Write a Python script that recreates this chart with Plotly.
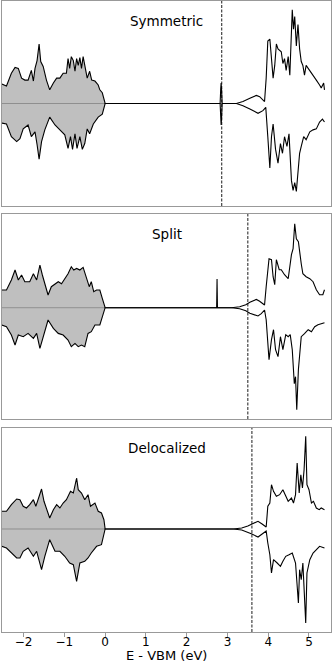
import plotly.graph_objects as go

# ---------------- data ----------------
x_range = [-2.53, 5.54]
tick_vals = [-2, -1, 0, 1, 2, 3, 4, 5]
panel_titles = ["Symmetric", "Split", "Delocalized"]
fermi_levels = [2.86, 3.50, 3.60]
y_limits = [[-105, 105], [-111.3, 93.7], [-103, 101]]
x_title = "E - VBM (eV)"

# Panel 1: Symmetric
sym_vb_up_e = [-2.60, -2.54, -2.42, -2.30, -2.21, -2.13, -2.05, -1.97, -1.89, -1.81, -1.76, -1.72, -1.67, -1.62,
               -1.58, -1.52, -1.44, -1.36, -1.27, -1.19, -1.11, -1.03, -0.95, -0.91, -0.87, -0.83, -0.78, -0.74,
               -0.70, -0.66, -0.62, -0.58, -0.54, -0.50, -0.44, -0.38, -0.33, -0.25, -0.17, -0.13, -0.07, 0.0]
sym_vb_up = [19, 20, 18, 31, 37, 36, 26, 24, 24, 34, 23, 36, 44, 61, 43, 38, 24, 14, 21, 26, 26, 31, 31, 46, 36,
             48, 44, 33, 46, 39, 47, 36, 48, 39, 26, 33, 24, 23, 19, 14, 11, 0]
sym_vb_dn_e = [-2.60, -2.54, -2.42, -2.30, -2.17, -2.09, -2.01, -1.89, -1.81, -1.72, -1.67, -1.62, -1.56, -1.48,
               -1.36, -1.23, -1.11, -0.99, -0.91, -0.85, -0.80, -0.74, -0.69, -0.62, -0.56, -0.50, -0.44, -0.38,
               -0.29, -0.17, -0.07, 0.0]
sym_vb_dn = [19, 20, 21, 34, 39, 36, 26, 22, 34, 29, 42, 57, 39, 27, 14, 22, 27, 32, 46, 34, 47, 31, 46, 34, 47,
             41, 26, 31, 21, 14, 11, 0]
sym_def_e = [2.82, 2.835, 2.845, 2.855, 2.87]
sym_def_up = [0, 15, 21, 15, 0]
sym_def_dn = [0, 16, 22, 16, 0]
sym_cb_up_e = [3.22, 3.38, 3.55, 3.71, 3.79, 3.91, 3.95, 3.99, 4.04, 4.08, 4.12, 4.16, 4.20, 4.24, 4.32, 4.36,
               4.40, 4.44, 4.49, 4.53, 4.57, 4.59, 4.62, 4.65, 4.69, 4.73, 4.77, 4.81, 4.85, 4.89, 4.93, 5.02,
               5.10, 5.18, 5.26, 5.30, 5.36, 5.38]
sym_cb_up = [0, 2, 5.3, 8.3, 7, 2, 26, 64, 66, 46, 26, 39, 61, 56, 53, 41, 46, 34, 48, 29, 69, 96, 76, 89, 59,
             81, 56, 43, 39, 29, 39, 34, 29, 24, 19, 16, 21, 14]
sym_cb_dn_e = [3.22, 3.38, 3.55, 3.75, 3.87, 3.94, 3.99, 4.04, 4.08, 4.12, 4.18, 4.24, 4.30, 4.35, 4.40, 4.46,
               4.51, 4.57, 4.61, 4.65, 4.69, 4.74, 4.77, 4.81, 4.87, 4.93, 5.02, 5.10, 5.18, 5.26, 5.33, 5.38]
sym_cb_dn = [0, 2.3, 5.7, 10, 7.3, 4, 34, 66, 34, 21, 47, 61, 41, 51, 34, 44, 31, 79, 89, 81, 90, 61, 51, 44, 34,
             37, 29, 27, 26, 19, 16, 19]

# Panel 2: Split
spl_vb_up_e = [-2.60, -2.54, -2.42, -2.30, -2.21, -2.13, -2.05, -1.97, -1.85, -1.76, -1.68, -1.60, -1.54, -1.48,
               -1.40, -1.32, -1.23, -1.15, -1.07, -0.99, -0.91, -0.83, -0.77, -0.70, -0.62, -0.54, -0.46, -0.39,
               -0.34, -0.28, -0.21, -0.13, -0.07, 0.0]
spl_vb_up = [17, 17.7, 17.7, 27.7, 37.7, 27.7, 32.7, 26, 26, 34, 27.7, 42.7, 32.7, 24, 12.7, 21, 24, 26, 24, 29,
             34, 41, 37.7, 39.3, 37.7, 40.3, 31, 21, 26, 16, 17.7, 17.7, 9.3, 0]
spl_vb_dn_e = [-2.60, -2.54, -2.42, -2.30, -2.21, -2.13, -2.01, -1.89, -1.76, -1.68, -1.60, -1.52, -1.40, -1.27,
               -1.15, -1.03, -0.91, -0.83, -0.74, -0.66, -0.58, -0.50, -0.42, -0.34, -0.25, -0.13, -0.07, 0.0]
spl_vb_dn = [17, 17.3, 19, 27.3, 37.3, 27.3, 29, 25.7, 30.7, 25.7, 40.7, 29, 12.3, 20.7, 25.7, 27.3, 32.3, 39,
             35.7, 39, 37.3, 39, 25.7, 24, 17.3, 17.3, 9, 0]
spl_def_e = [2.735, 2.745, 2.755]
spl_def_up = [0, 28.7, 0]
spl_cb_up_e = [3.10, 3.30, 3.45, 3.55, 3.71, 3.79, 3.91, 3.95, 4.02, 4.08, 4.12, 4.16, 4.20, 4.27, 4.32, 4.40,
               4.49, 4.57, 4.61, 4.65, 4.69, 4.74, 4.77, 4.81, 4.85, 4.93, 5.02, 5.10, 5.18, 5.26, 5.34, 5.38]
spl_cb_up = [0, 1, 3, 5.5, 8.3, 6.5, 2.7, 21, 49, 48, 31, 23, 48, 38, 38, 33, 29, 53, 59, 84, 69, 66, 54, 44,
             34, 31, 29, 26, 18, 13, 13, 18]
spl_cb_dn_e = [3.10, 3.30, 3.45, 3.55, 3.75, 3.83, 3.91, 3.95, 4.02, 4.08, 4.13, 4.18, 4.24, 4.30, 4.36, 4.43,
               4.49, 4.54, 4.59, 4.64, 4.67, 4.70, 4.74, 4.77, 4.81, 4.89, 4.98, 5.06, 5.14, 5.22, 5.30, 5.38]
spl_cb_dn = [0, 1, 3, 5.5, 8.3, 6, 2.3, 12, 52, 32, 22, 42, 49, 29, 42, 27, 29, 27, 42, 76, 69, 102, 62, 49,
             29, 26, 22, 24, 19, 17, 16, 15]

# Panel 3: Delocalized
del_vb_up_e = [-2.60, -2.54, -2.42, -2.30, -2.17, -2.09, -2.01, -1.93, -1.85, -1.76, -1.70, -1.62, -1.56, -1.50,
               -1.42, -1.36, -1.27, -1.19, -1.11, -1.03, -0.95, -0.85, -0.78, -0.74, -0.70, -0.66, -0.58, -0.50,
               -0.42, -0.36, -0.25, -0.17, -0.09, -0.03, 0.0]
del_vb_up = [17, 17.7, 17.7, 24.3, 30, 29.3, 22.7, 21, 24.3, 29.3, 22.7, 32.7, 40, 27.7, 19.3, 11, 19.3, 24.3,
             21, 26, 29.3, 37.7, 36, 42.7, 51, 39.3, 36, 29.3, 34.3, 22.7, 26, 17.7, 16, 9.3, 0]
del_vb_dn_e = [-2.60, -2.54, -2.42, -2.30, -2.17, -2.09, -2.01, -1.89, -1.76, -1.68, -1.56, -1.48, -1.36, -1.23,
               -1.11, -0.99, -0.87, -0.78, -0.70, -0.62, -0.50, -0.42, -0.34, -0.21, -0.09, 0.0]
del_vb_dn = [17, 17.3, 19, 24, 29, 29, 22.3, 19, 27.3, 22.3, 40.7, 27.3, 10.7, 22.3, 22.3, 27.3, 34, 35.7, 52.3,
             34, 32.3, 29, 24, 17.3, 15.7, 0]
del_cb_up_e = [3.14, 3.35, 3.50, 3.60, 3.75, 3.85, 3.95, 3.99, 4.04, 4.08, 4.13, 4.20, 4.28, 4.36, 4.43, 4.49,
               4.57, 4.62, 4.67, 4.71, 4.76, 4.80, 4.84, 4.88, 4.92, 4.95, 5.00, 5.06, 5.11, 5.18, 5.25, 5.30, 5.38]
del_cb_up = [0, 1, 3, 5, 7.7, 5, 2, 22.7, 26, 44.3, 37.7, 32.7, 34.3, 39.3, 32.7, 27.7, 31, 26, 34.3, 66, 36,
             54.3, 41, 59.3, 92.7, 44.3, 39.3, 26, 27.7, 21, 19.3, 21, 19.3]
del_cb_dn_e = [3.14, 3.35, 3.50, 3.60, 3.75, 3.85, 3.95, 3.99, 4.04, 4.08, 4.13, 4.22, 4.30, 4.36, 4.43, 4.51,
               4.59, 4.67, 4.74, 4.77, 4.81, 4.85, 4.89, 4.92, 4.95, 5.02, 5.10, 5.18, 5.26, 5.38]
del_cb_dn = [0, 1, 3, 5, 8, 5, 2, 14, 25.7, 44, 30.7, 34, 37.3, 32.3, 27.3, 25.7, 24, 34, 74, 40.7, 50.7, 34, 64,
             94, 44, 30.7, 24, 20.7, 17.3, 19]

# ---------------- assemble ----------------
panels = [
    dict(vb_up_e=sym_vb_up_e, vb_up=sym_vb_up, vb_dn_e=sym_vb_dn_e, vb_dn=sym_vb_dn,
         def_up_e=sym_def_e, def_up=sym_def_up, def_dn_e=sym_def_e, def_dn=sym_def_dn,
         cb_up_e=sym_cb_up_e, cb_up=sym_cb_up, cb_dn_e=sym_cb_dn_e, cb_dn=sym_cb_dn),
    dict(vb_up_e=spl_vb_up_e, vb_up=spl_vb_up, vb_dn_e=spl_vb_dn_e, vb_dn=spl_vb_dn,
         def_up_e=spl_def_e, def_up=spl_def_up, def_dn_e=[], def_dn=[],
         cb_up_e=spl_cb_up_e, cb_up=spl_cb_up, cb_dn_e=spl_cb_dn_e, cb_dn=spl_cb_dn),
    dict(vb_up_e=del_vb_up_e, vb_up=del_vb_up, vb_dn_e=del_vb_dn_e, vb_dn=del_vb_dn,
         def_up_e=[], def_up=[], def_dn_e=[], def_dn=[],
         cb_up_e=del_cb_up_e, cb_up=del_cb_up, cb_dn_e=del_cb_dn_e, cb_dn=del_cb_dn),
]

domains = [[0.6751, 1.0], [0.3376, 0.6624], [0.0, 0.3233]]
FONT = "DejaVu Sans"
FILL = "#bfbfbf"
FRAME = "#999999"

fig = go.Figure()
for i, p in enumerate(panels):
    xa = "x" if i == 0 else f"x{i+1}"
    ya = "y" if i == 0 else f"y{i+1}"
    # filled valence band
    fig.add_trace(go.Scatter(x=p["vb_up_e"], y=p["vb_up"], xaxis=xa, yaxis=ya, mode="lines",
                             line=dict(width=0), fill="tozeroy", fillcolor=FILL, hoverinfo="skip"))
    fig.add_trace(go.Scatter(x=p["vb_dn_e"], y=[-v for v in p["vb_dn"]], xaxis=xa, yaxis=ya, mode="lines",
                             line=dict(width=0), fill="tozeroy", fillcolor=FILL, hoverinfo="skip"))
    fig.add_trace(go.Scatter(x=[p["vb_up_e"][0], p["vb_up_e"][-1]], y=[0, 0], xaxis=xa, yaxis=ya,
                             mode="lines", line=dict(color="#8f8f8f", width=1), hoverinfo="skip"))
    up_e = p["vb_up_e"] + p["def_up_e"] + p["cb_up_e"]
    up_v = p["vb_up"] + p["def_up"] + p["cb_up"]
    dn_e = p["vb_dn_e"] + p["def_dn_e"] + p["cb_dn_e"]
    dn_v = [-v for v in p["vb_dn"] + p["def_dn"] + p["cb_dn"]]
    fig.add_trace(go.Scatter(x=up_e, y=up_v, xaxis=xa, yaxis=ya, mode="lines",
                             line=dict(color="black", width=1.1)))
    fig.add_trace(go.Scatter(x=dn_e, y=dn_v, xaxis=xa, yaxis=ya, mode="lines",
                             line=dict(color="black", width=1.1)))

    last = i == len(panels) - 1
    xkey = "xaxis" if i == 0 else f"xaxis{i+1}"
    ykey = "yaxis" if i == 0 else f"yaxis{i+1}"
    fig.update_layout(**{
        xkey: dict(domain=[0, 1], anchor=ya, range=x_range, showgrid=False, zeroline=False,
                   showline=True, mirror=True, linecolor=FRAME, linewidth=1,
                   tickmode="array", tickvals=tick_vals,
                   ticks="outside" if last else "", ticklen=3.5, tickcolor=FRAME, tickwidth=1,
                   ticklabelstandoff=-5 if last else 0,
                   showticklabels=last, tickfont=dict(family=FONT, size=12, color="black")),
        ykey: dict(domain=domains[i], anchor=xa, range=y_limits[i], showgrid=False, zeroline=False,
                   showline=True, mirror=True, linecolor=FRAME, linewidth=1,
                   showticklabels=False, ticks=""),
    })
    fig.add_shape(type="line", xref=xa, yref=f"{ya} domain", x0=fermi_levels[i], x1=fermi_levels[i],
                  y0=0, y1=1, line=dict(color="black", width=0.9, dash="3px,1.5px"))
    fig.add_annotation(text=panel_titles[i], xref=f"{xa} domain", yref=f"{ya} domain", x=0.5, y=0.903,
                       xanchor="center", yanchor="middle", showarrow=False,
                       font=dict(family=FONT, size=13.5, color="black"))

fig.add_annotation(text=x_title, xref="paper", yref="paper", x=0.5, y=-0.0507, xanchor="center",
                   yanchor="bottom", showarrow=False, borderpad=0,
                   font=dict(family=FONT, size=13, color="black"))

fig.update_layout(width=332, height=664, margin=dict(l=2, r=1, t=1, b=32), showlegend=False,
                  paper_bgcolor="white", plot_bgcolor="white")
fig.write_html("out.html", config={"displayModeBar": False},
               post_script="document.body.style.margin='0';document.body.style.overflow='hidden';")
